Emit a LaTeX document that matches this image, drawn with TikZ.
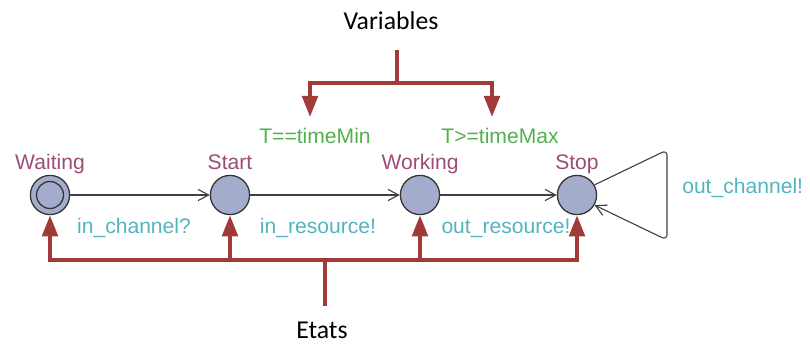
\documentclass[tikz,border=0pt]{standalone}
\usepackage{fontspec}
\setmainfont{Liberation Sans}
\newfontfamily\calibri{Carlito}
\usepackage{xcolor}
\usetikzlibrary{
		calc,
		positioning,
		arrows.meta
	}
\definecolor{namecol}{HTML}{9C4D77}
\definecolor{synccol}{HTML}{52B4BE}
\definecolor{guardcol}{HTML}{52B04E}
\definecolor{locfill}{HTML}{A4ACCC}
\definecolor{markred}{HTML}{A23A37}
\tikzset{
		>={Straight Barb[length=7.5pt,width=8pt]},
		loc/.style={circle,draw=black!80,fill=locfill,line width=0.9pt,minimum size=0.98cm,inner sep=0pt},
		locname/.style={text=namecol,font=\fontsize{15}{18}\selectfont,inner sep=0pt,anchor=base},
		trans/.style={draw=black!75,line width=0.8pt,->},
		guard/.style={text=guardcol,font=\fontsize{15}{18}\selectfont,inner sep=0pt,anchor=base},
		sync/.style={text=synccol,font=\fontsize{15}{18}\selectfont,inner sep=0pt,anchor=base},
		redline/.style={draw=markred,line width=2.8pt},
		redarrow/.style={redline,-{Triangle[length=15pt,width=11pt]}},
		note/.style={font=\calibri\fontsize{18.3}{22}\selectfont,inner sep=0pt,anchor=base}
	}

\begin{document}
\begin{tikzpicture}[x=0.025cm,y=-0.025cm]
          \useasboundingbox (0,0) rectangle (810,343);

          % locations
          \node[loc] (waiting) at (50,195) {};
          \node[circle,draw=black!80,line width=0.9pt,minimum size=0.675cm,inner sep=0pt] (waitingInit) at (waiting) {};
          \node[loc] (start) at (230,195) {};
          \node[loc] (working) at (420,195) {};
          \node[loc] (stop) at (577,195) {};

          \node[locname, above=3.9pt of waiting, anchor=base] (waitingName) {Waiting};
          \node[locname, above=3.9pt of start, anchor=base] (startName) {Start};
          \node[locname, above=3.9pt of working, anchor=base] (workingName) {Working};
          \node[locname, above=3.9pt of stop, anchor=base] (stopName) {Stop};

          % transitions
          \coordinate (loopA) at (667,150);
          \coordinate (loopB) at (667,240);
          \draw[trans] (waiting) -- (start);
          \draw[trans] (start) -- (working);
          \draw[trans] (working) -- (stop);
          \draw[trans,rounded corners=4pt] (stop.30) -- (loopA) -- (loopB) -- (stop.-30);

          \node[guard] (guardMin) at (315,143) {T==timeMin};
          \node[guard] (guardMax) at (500,143) {T>=timeMax};
          \node[sync] (syncIn) at (134,233) {in\_channel?};
          \node[sync] (syncRes) at (318,233) {in\_resource!};
          \node[sync] (syncOutRes) at (506,233) {out\_resource!};
          \node[sync,anchor=base west] (syncOut) at (682,193) {out\_channel!};

          % Variables
          \node[note] (variables) at (391,29) {Variables};
          \coordinate (varTop) at (397,50);
          \coordinate (varHub) at (397,83);
          \coordinate (varMin) at (310,117);
          \coordinate (varMax) at (492,117);
          \draw[redline] (varTop) -- (varHub);
          \draw[redarrow] (varHub) -| (varMin);
          \draw[redarrow] (varHub) -| (varMax);

          % Etats
          \node[note] (etats) at (322,338) {Etats};
          \coordinate (etatsTop) at (325,306);
          \coordinate (etatsHub) at (325,260);
          \draw[redline] (etatsTop) -- (etatsHub);
          \draw[redarrow] (etatsHub) -| (waiting.south);
          \draw[redarrow] (etatsHub) -| (start.south);
          \draw[redarrow] (etatsHub) -| (working.south);
          \draw[redarrow] (etatsHub) -| (stop.south);

          \end{tikzpicture}
\end{document}
